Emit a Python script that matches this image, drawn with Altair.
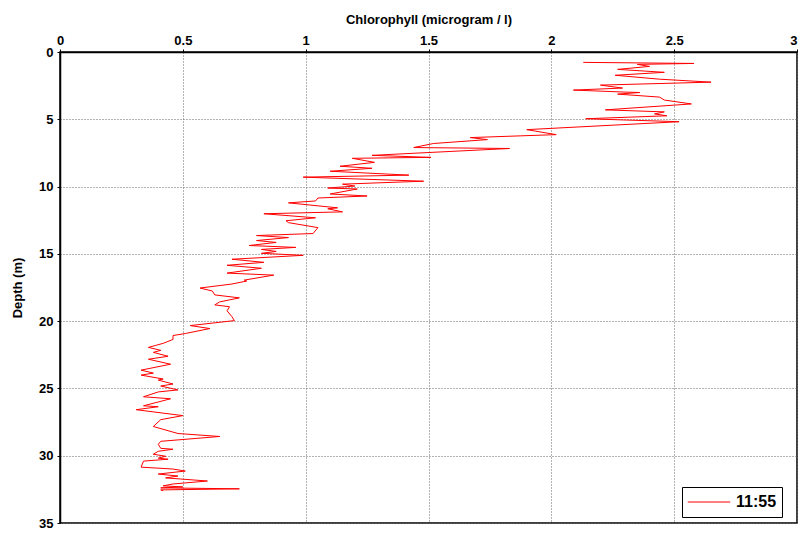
import altair as alt
import pandas as pd

chlorophyll = [
    2.13, 2.58, 2.35, 2.40, 2.27, 2.46, 2.26, 2.44, 2.65, 2.20,
    2.29, 2.09, 2.30, 2.36, 2.27, 2.44, 2.46, 2.57, 2.22, 2.46,
    2.42, 2.47, 2.14, 2.52, 1.90, 2.02, 1.67, 1.74, 1.52, 1.44,
    1.83, 1.27, 1.51, 1.19, 1.28, 1.14, 1.27, 1.10, 1.42, 0.99,
    1.48, 1.15, 1.20, 1.09, 1.21, 1.10, 1.25, 1.05, 1.04, 0.93,
    1.13, 1.09, 1.15, 0.83, 1.04, 0.92, 0.93, 1.05, 1.03, 0.80,
    0.93, 0.80, 0.88, 0.77, 0.96, 0.82, 0.88, 0.82, 0.99, 0.70,
    0.83, 0.68, 0.82, 0.68, 0.87, 0.75, 0.76, 0.70, 0.57, 0.62,
    0.63, 0.73, 0.65, 0.63, 0.69, 0.68, 0.70, 0.71, 0.53, 0.61,
    0.51, 0.46, 0.46, 0.42, 0.39, 0.36, 0.41, 0.38, 0.44, 0.36,
    0.45, 0.33, 0.38, 0.33, 0.42, 0.40, 0.46, 0.41, 0.48, 0.40,
    0.34, 0.45, 0.34, 0.40, 0.31, 0.50, 0.41, 0.38, 0.48, 0.65,
    0.41, 0.40, 0.41, 0.46, 0.40, 0.38, 0.43, 0.40, 0.44, 0.34,
    0.33, 0.46, 0.51, 0.40, 0.48, 0.43, 0.49, 0.60, 0.46, 0.42,
    0.50, 0.41, 0.73, 0.41, 0.42,
]
depth = [
    0.77, 0.85, 0.92, 1.07, 1.29, 1.51, 1.73, 2.02, 2.24, 2.46,
    2.68, 2.83, 2.98, 3.01, 3.13, 3.35, 3.57, 3.86, 4.30, 4.45,
    4.60, 4.74, 4.96, 5.18, 5.77, 6.14, 6.36, 6.51, 6.80, 7.10,
    7.17, 7.68, 7.83, 7.90, 8.20, 8.49, 8.64, 8.86, 9.15, 9.30,
    9.60, 9.82, 9.96, 10.11, 10.18, 10.55, 10.70, 10.85, 11.07, 11.21,
    11.58, 11.65, 11.88, 12.02, 12.32, 12.54, 12.68, 13.05, 13.49, 13.64,
    13.79, 14.01, 14.15, 14.38, 14.52, 14.67, 14.82, 14.96, 15.11, 15.40,
    15.63, 15.85, 16.07, 16.43, 16.58, 16.95, 17.02, 17.24, 17.54, 17.76,
    18.05, 18.27, 18.57, 18.79, 18.93, 19.23, 19.67, 19.96, 20.33, 20.55,
    20.92, 21.07, 21.36, 21.65, 21.80, 21.95, 22.17, 22.32, 22.61, 22.83,
    23.20, 23.64, 23.86, 24.01, 24.30, 24.38, 24.67, 24.82, 25.11, 25.26,
    25.62, 25.77, 26.29, 26.36, 26.58, 27.02, 27.32, 27.83, 28.35, 28.57,
    28.93, 29.15, 29.45, 29.52, 29.67, 29.89, 30.04, 30.18, 30.26, 30.40,
    30.85, 30.99, 31.14, 31.36, 31.51, 31.65, 31.73, 31.88, 32.10, 32.24,
    32.32, 32.39, 32.46, 32.54, 32.60,
]
series_label = "11:55"
x_ticks = [0, 0.5, 1, 1.5, 2, 2.5, 3]
y_ticks = [0, 5, 10, 15, 20, 25, 30, 35]

df = pd.DataFrame({
    "idx": list(range(len(depth))),
    "chl": chlorophyll,
    "depth": depth,
    "series": [series_label] * len(depth),
})

FONT = "Liberation Sans"

chart = (
    alt.Chart(df)
    .mark_line(strokeWidth=1)
    .encode(
        x=alt.X(
            "chl:Q",
            scale=alt.Scale(domain=[0, 3], nice=False),
            axis=alt.Axis(
                orient="top",
                values=x_ticks,
                format="~g",
                title="Chlorophyll (microgram / l)",
                titlePadding=8,
                labelPadding=2,
                labelFlush=False,
                labelAlign={
                    "condition": {"test": "datum.value >= 3", "value": "right"},
                    "value": "center",
                },
            ),
        ),
        y=alt.Y(
            "depth:Q",
            scale=alt.Scale(domain=[0, 35], reverse=True, nice=False),
            axis=alt.Axis(
                values=y_ticks,
                title="Depth (m)",
                titlePadding=14,
                labelPadding=4,
            ),
        ),
        order=alt.Order("idx:Q"),
        color=alt.Color(
            "series:N",
            scale=alt.Scale(range=["#ff0000"]),
            legend=alt.Legend(
                title=None,
                orient="none",
                legendX=622,
                legendY=435,
                padding=5,
                clipHeight=20,
                symbolType="stroke",
                symbolSize=1800,
                symbolStrokeWidth=1,
            ),
        ),
    )
    .properties(
        width=737,
        height=471,
        autosize=alt.AutoSizeParams(type="none"),
        padding={"left": 52, "top": 44, "right": 2, "bottom": 7},
    )
    .configure_view(stroke="black", strokeWidth=1.5)
    .configure_legend(
        strokeColor="black",
        fillColor="white",
        cornerRadius=0,
        labelFont="Arial",
        labelFontSize=16,
        labelFontWeight="bold",
        labelColor="black",
        labelOffset=5,
    )
    .configure_axis(
        labelFont=FONT,
        labelFontSize=13,
        labelFontWeight="bold",
        labelColor="black",
        titleFont=FONT,
        titleFontSize=13,
        titleFontWeight="bold",
        titleColor="black",
        domainColor="black",
        domainWidth=1.5,
        tickColor="black",
        tickSize=3,
        gridColor="#666666",
        gridDash=[1, 2],
        gridOpacity=1,
        gridWidth=1,
    )
)

chart.save("out.html", embed_options={"renderer": "svg", "actions": False})
